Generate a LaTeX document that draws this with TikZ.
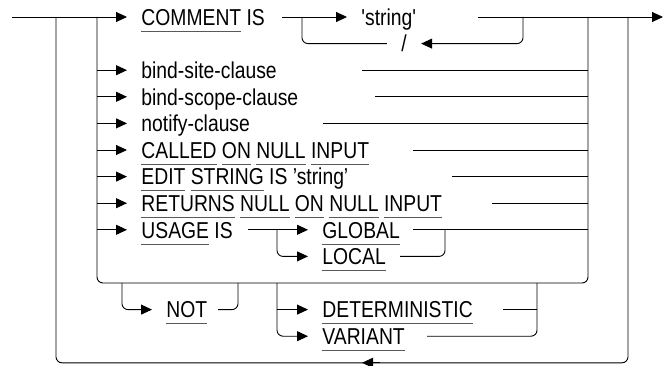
\documentclass[tikz,border=0pt]{standalone}
\usepackage{fontspec}
\setmainfont[FakeStretch=0.84,Ligatures=TeXOff]{Liberation Sans}
\usetikzlibrary{arrows.meta}
% keyword with its own underline
\newcommand\kw[1]{\setbox0\hbox{#1}\rlap{\color{black!65}\rule[-6.5pt]{\wd0}{0.9pt}}\box0\relax}

\begin{document}
\begin{tikzpicture}[
    x=1pt, y=-1pt, line width=0.9pt,
    every node/.style={font=\fontsize{23}{26}\selectfont, inner xsep=14pt, inner ysep=0pt,
      text height=16.6pt, text depth=0pt, anchor=base west},
    arr/.style={-{Triangle[length=11pt,width=10pt]}},
    loop/.style={rounded corners=6pt},
  ]
    \useasboundingbox (0,0) rectangle (664,366);

    % Row positions (y grows downwards)
    \def\yA{17}     % COMMENT IS
    \def\yB{43.6}   % separator loop
    \def\yC{70.2}
    \def\yD{96.8}
    \def\yE{123.4}
    \def\yF{150}
    \def\yG{176.6}
    \def\yH{203.2}
    \def\yI{229.8}  % USAGE IS
    \def\yJ{256.4}
    \def\yK{283}    % inner loop bottom
    \def\yL{309.6}
    \def\yM{336.2}
    \def\yN{362.8}  % outer loop bottom
    \def\bl{8.3}    % baseline below the line

    % Texts
    \node (cmt) at (127,\yA+\bl) {\kw{COMMENT} IS};
    \node (str) at (347,\yA+\bl) {'string'};
    \node[anchor=base] (sep) at (404,\yB+\bl) {/};
    \node (bsite) at (127,\yC+\bl) {bind-site-clause};
    \node (bscope) at (127,\yD+\bl) {bind-scope-clause};
    \node (notify) at (127,\yE+\bl) {notify-clause};
    \node (called) at (127,\yF+\bl) {\kw{CALLED} \kw{ON} \kw{NULL} \kw{INPUT}};
    \node (edit) at (127,\yG+\bl) {\kw{EDIT} \kw{STRING} IS ’string’};
    \node (returns) at (127,\yH+\bl) {\kw{RETURNS} \kw{NULL} \kw{ON} \kw{NULL} \kw{INPUT}};
    \node (usage) at (127,\yI+\bl) {\kw{USAGE} IS};
    \node (glob) at (308,\yI+\bl) {\kw{GLOBAL}};
    \node (loc) at (308,\yJ+\bl) {\kw{LOCAL}};
    \node (not) at (152,\yL+\bl) {\kw{NOT}};
    \node (det) at (308,\yL+\bl) {\kw{DETERMINISTIC}};
    \node (var) at (308,\yM+\bl) {\kw{VARIANT}};

    % Main line
    \draw[arr] (12,\yA) -- (cmt.west);
    \draw[arr] (282,\yA) -- (str.west);
    \draw[arr] (478,\yA) -- (663,\yA);

    % Comment repeat loop
    \draw[arr, loop] (523,\yA) |- (sep.east);
    \draw[loop] (sep.west) -| (302,\yA);

    % Branches off the inner loop
    \foreach \n in {bsite,bscope,notify,called,edit,returns,usage}
      \draw[arr] ([xshift=-30pt]\n.west) -- (\n.west);
    \draw (362,\yC) -- (588,\yC);
    \draw (375,\yD) -- (588,\yD);
    \draw (323,\yE) -- (588,\yE);
    \draw (413,\yF) -- (588,\yF);
    \draw (452,\yG) -- (588,\yG);
    \draw (492,\yH) -- (588,\yH);

    % USAGE IS choice
    \draw[arr] (248,\yI) -- (glob.west);
    \draw[arr, loop] (277,\yI) |- (loc.west);
    \draw (413,\yI) -- (588,\yI);
    \draw[loop] (400,\yJ) -| (445,\yI);

    % Inner and outer loops
    \draw[loop] (97,\yA) |- (588,\yK) -- (588,\yA);
    \draw[loop] (56,\yA) |- (628,\yN) -- (628,\yA);
    \draw[arr] (380,\yN) -- (362,\yN);

    % NOT
    \draw[arr, loop] (122,\yK) |- (not.west);
    \draw[loop] (218,\yL) -| (238,\yK);

    % DETERMINISTIC / VARIANT
    \draw[arr] (277,\yL) -- (det.west);
    \draw[arr, loop] (277,\yK) |- (var.west);
    \draw (503,\yL) -- (537,\yL);
    \draw[loop] (427,\yM) -| (537,\yK);

  \end{tikzpicture}
\end{document}
